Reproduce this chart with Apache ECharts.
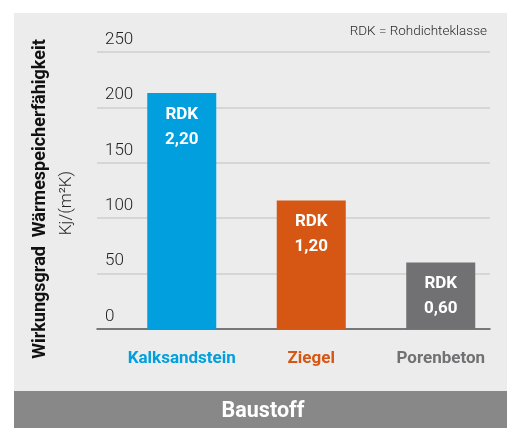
<!DOCTYPE html>
<html><head><meta charset="utf-8">
<script src="https://cdn.jsdelivr.net/npm/echarts@6/dist/echarts.min.js"></script>
<style>html,body{margin:0;padding:0;background:#fff}#c{width:507px;height:428px}</style>
</head><body><div id="c"></div>
<script>
const categories = ['Kalksandstein', 'Ziegel', 'Porenbeton'];
const values = [213, 116, 60];
const rdkLabels = ['2,20', '1,20', '0,60'];
const barColors = ['#019fde', '#d65613', '#717173'];
const yTicks = [0, 50, 100, 150, 200, 250];

const chart = echarts.init(document.getElementById('c'), null, {renderer: 'canvas'});
const FONT = 'Roboto';
const rich = {};
categories.forEach((c, i) => { rich['c' + i] = {color: barColors[i], fontFamily: FONT, fontWeight: 'bold', fontSize: 17}; });

chart.setOption({
  animation: false,
  backgroundColor: '#ffffff',
  graphic: [
    {type: 'rect', z: -10, shape: {x: 14, y: 13, width: 493, height: 415}, style: {fill: '#ebeceb'}},
    {type: 'rect', z: -9, shape: {x: 14, y: 391, width: 493, height: 37}, style: {fill: '#888889'}},
    {type: 'text', x: 263, y: 412, style: {text: 'Baustoff', fill: '#ffffff', font: 'bold 21.5px Roboto', align: 'center', verticalAlign: 'middle'}},
    {type: 'text', x: 487, y: 32, style: {text: 'RDK = Rohdichteklasse', fill: '#2a2a2a', font: '300 13.5px Roboto', align: 'right', verticalAlign: 'middle'}},
    {type: 'text', x: 40, y: 199, rotation: Math.PI / 2, style: {text: 'Wirkungsgrad  Wärmespeicherfähigkeit', fill: '#111111', font: 'bold 18px Roboto', align: 'center', verticalAlign: 'middle'}},
    {type: 'text', x: 67, y: 203, rotation: Math.PI / 2, style: {text: 'Kj/(m²K)', fill: '#2a2a2a', font: '300 17px Roboto', align: 'center', verticalAlign: 'middle'}}
  ],
  grid: [
    {left: 97, right: 17, top: 52, bottom: 99},
    {left: 117, right: 1.5, top: 52, bottom: 99}
  ],
  xAxis: [
    {gridIndex: 0, type: 'value', min: 0, max: 1, axisLine: {show: true, onZero: false, lineStyle: {color: '#5a5a5a', width: 1.5}}, axisTick: {show: false}, axisLabel: {show: false}, splitLine: {show: false}},
    {gridIndex: 1, type: 'category', data: categories, axisLine: {show: false}, axisTick: {show: false},
      axisLabel: {margin: 21, formatter: (v, i) => '{c' + i + '|' + v + '}', rich: rich}}
  ],
  yAxis: [
    {gridIndex: 0, type: 'value', min: 0, max: 250, interval: 50,
      axisLine: {show: false}, axisTick: {show: false},
      splitLine: {show: true, lineStyle: {color: '#cfcfcf', width: 1.5}},
      axisLabel: {inside: true, verticalAlign: 'bottom', padding: [0, 0, 4, 0], color: '#222222', fontFamily: FONT, fontWeight: 300, fontSize: 17,
        formatter: v => yTicks.includes(v) ? String(v) : ''}},
    {gridIndex: 1, type: 'value', min: 0, max: 250, interval: 50, show: false}
  ],
  series: [{
    type: 'bar', xAxisIndex: 1, yAxisIndex: 1,
    barWidth: 69,
    data: values.map((v, i) => ({value: v, itemStyle: {color: barColors[i]}})),
    label: {show: true, position: 'insideTop', distance: 9, color: '#ffffff', fontFamily: FONT, fontWeight: 'bold', fontSize: 17, lineHeight: 25,
      formatter: p => 'RDK\n' + rdkLabels[p.dataIndex]}
  }]
});
</script></body></html>
